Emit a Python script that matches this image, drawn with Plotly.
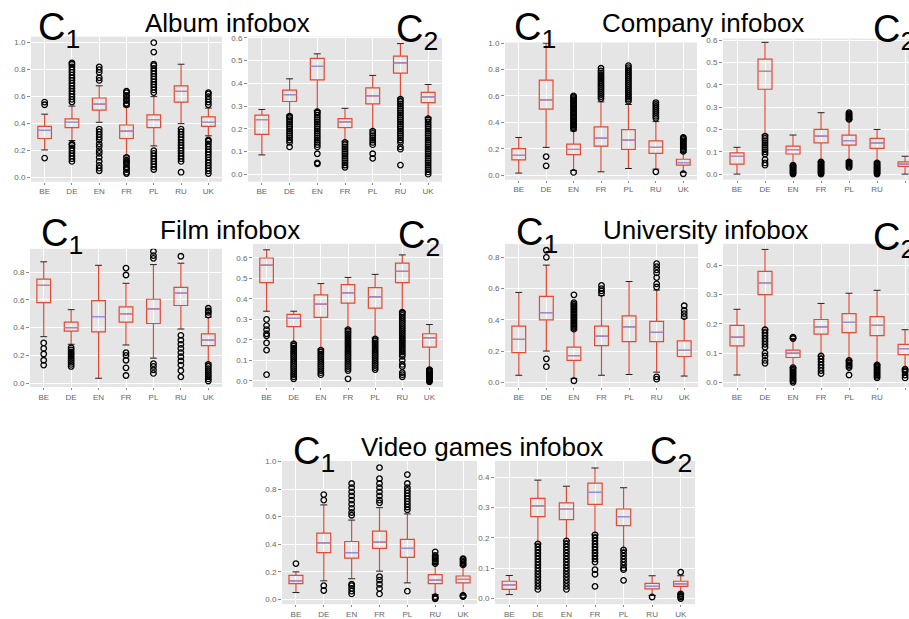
import plotly.graph_objects as go

W, H = 909, 619
CATS = ["BE", "DE", "EN", "FR", "PL", "RU", "UK"]

# ---------------- Album infobox ----------------
album_c1_q1 = [0.29, 0.37, 0.50, 0.29, 0.37, 0.56, 0.38]
album_c1_med = [0.35, 0.41, 0.545, 0.345, 0.43, 0.64, 0.41]
album_c1_q3 = [0.38, 0.435, 0.59, 0.39, 0.465, 0.68, 0.45]
album_c1_lo = [0.205, 0.275, 0.41, 0.16, 0.235, 0.40, 0.31]
album_c1_hi = [0.47, 0.53, 0.68, 0.525, 0.60, 0.84, 0.515]
album_c1_out = [
    [0.145, 0.54, 0.56],
    [0.12, 0.14, 0.16, 0.18, 0.20, 0.22, 0.24, 0.25, 0.56, 0.58, 0.60, 0.62, 0.64, 0.66, 0.68, 0.70,
     0.72, 0.74, 0.76, 0.78, 0.80, 0.82, 0.84, 0.85],
    [0.05, 0.07, 0.09, 0.12, 0.15, 0.18, 0.20, 0.23, 0.25, 0.28, 0.30, 0.32, 0.34, 0.36,
     0.72, 0.74, 0.78, 0.80, 0.82],
    [0.03, 0.04, 0.06, 0.07, 0.08, 0.10, 0.11, 0.12, 0.13, 0.15, 0.54, 0.55, 0.57, 0.58, 0.60, 0.61,
     0.63, 0.64],
    [0.06, 0.08, 0.10, 0.12, 0.14, 0.16, 0.18, 0.20, 0.63, 0.65, 0.67, 0.69, 0.71, 0.73, 0.75, 0.77,
     0.79, 0.81, 0.83, 0.84, 0.93, 1.0],
    [0.04, 0.12, 0.14, 0.16, 0.18, 0.20, 0.22, 0.24, 0.26, 0.28, 0.30, 0.32, 0.34, 0.36],
    [0.03, 0.05, 0.07, 0.09, 0.11, 0.13, 0.15, 0.17, 0.19, 0.21, 0.23, 0.25, 0.27, 0.28,
     0.54, 0.56, 0.58, 0.60, 0.62, 0.63],
]
album_c2_q1 = [0.175, 0.32, 0.415, 0.205, 0.31, 0.445, 0.315]
album_c2_med = [0.24, 0.35, 0.475, 0.23, 0.345, 0.49, 0.34]
album_c2_q3 = [0.26, 0.37, 0.51, 0.245, 0.38, 0.52, 0.36]
album_c2_lo = [0.085, 0.26, 0.28, 0.145, 0.195, 0.335, 0.25]
album_c2_hi = [0.285, 0.42, 0.53, 0.29, 0.435, 0.575, 0.395]
album_c2_out = [
    [],
    [0.12, 0.14, 0.15, 0.16, 0.17, 0.18, 0.19, 0.20, 0.21, 0.22, 0.23, 0.24, 0.25, 0.255],
    [0.045, 0.05, 0.09, 0.12, 0.13, 0.14, 0.15, 0.16, 0.17, 0.18, 0.19, 0.20, 0.21, 0.22, 0.23, 0.24,
     0.25, 0.26, 0.27, 0.275],
    [0.03, 0.04, 0.05, 0.06, 0.07, 0.08, 0.09, 0.10, 0.11, 0.12, 0.13, 0.14],
    [0.07, 0.09, 0.13, 0.14, 0.15, 0.16, 0.17, 0.18, 0.19],
    [0.04, 0.11, 0.12, 0.14, 0.15, 0.16, 0.17, 0.18, 0.19, 0.20, 0.21, 0.22, 0.23, 0.24, 0.25, 0.26,
     0.27, 0.28, 0.29, 0.30, 0.31, 0.32, 0.33],
    [0.0, 0.01, 0.02, 0.03, 0.04, 0.05, 0.06, 0.07, 0.08, 0.09, 0.10, 0.11, 0.12, 0.13, 0.14, 0.15,
     0.16, 0.17, 0.18, 0.19, 0.20, 0.21, 0.22, 0.23, 0.24, 0.245],
]

# ---------------- Company infobox ----------------
company_c1_q1 = [0.115, 0.50, 0.155, 0.22, 0.195, 0.165, 0.075]
company_c1_med = [0.15, 0.57, 0.195, 0.28, 0.265, 0.21, 0.095]
company_c1_q3 = [0.20, 0.72, 0.235, 0.365, 0.345, 0.26, 0.12]
company_c1_lo = [0.015, 0.21, 0.035, 0.025, 0.05, 0.045, 0.02]
company_c1_hi = [0.285, 1.0, 0.335, 0.555, 0.535, 0.405, 0.17]
company_c1_out = [
    [],
    [0.07, 0.14],
    [0.02, 0.35, 0.36, 0.37, 0.38, 0.39, 0.40, 0.41, 0.42, 0.43, 0.44, 0.45, 0.46, 0.47, 0.48, 0.49,
     0.50, 0.51, 0.52, 0.53, 0.54, 0.55, 0.56, 0.57, 0.58, 0.59, 0.60],
    [0.58, 0.595, 0.61, 0.625, 0.64, 0.655, 0.67, 0.685, 0.70, 0.715, 0.73, 0.745, 0.76, 0.775, 0.79,
     0.81],
    [0.56, 0.575, 0.59, 0.605, 0.62, 0.635, 0.65, 0.665, 0.68, 0.695, 0.71, 0.725, 0.74, 0.755, 0.77,
     0.785, 0.80, 0.815, 0.83],
    [0.025, 0.43, 0.445, 0.46, 0.475, 0.49, 0.505, 0.52, 0.535, 0.55],
    [0.01, 0.18, 0.19, 0.20, 0.21, 0.22, 0.23, 0.24, 0.25, 0.26, 0.27, 0.28, 0.285],
]
company_c2_q1 = [0.045, 0.38, 0.09, 0.14, 0.13, 0.115, 0.035]
company_c2_med = [0.08, 0.46, 0.11, 0.17, 0.15, 0.14, 0.045]
company_c2_q3 = [0.095, 0.515, 0.125, 0.20, 0.175, 0.16, 0.055]
company_c2_lo = [0.0, 0.175, 0.04, 0.055, 0.06, 0.055, 0.0]
company_c2_hi = [0.12, 0.59, 0.175, 0.275, 0.245, 0.20, 0.08]
company_c2_out = [
    [],
    [0.04, 0.05, 0.065, 0.09, 0.10, 0.11, 0.12, 0.13, 0.14, 0.15, 0.16, 0.17],
    [0.0, 0.005, 0.01, 0.015, 0.02, 0.025, 0.03, 0.035, 0.04],
    [0.0, 0.005, 0.01, 0.015, 0.02, 0.025, 0.03, 0.035, 0.04, 0.045, 0.05, 0.055],
    [0.03, 0.035, 0.04, 0.045, 0.05, 0.055, 0.245, 0.25, 0.255, 0.26, 0.265, 0.27, 0.275],
    [0.0, 0.005, 0.01, 0.015, 0.02, 0.025, 0.03, 0.035, 0.04, 0.045, 0.05],
    [],
]

# ---------------- Film infobox ----------------
film_c1_q1 = [0.58, 0.375, 0.37, 0.44, 0.43, 0.56, 0.27]
film_c1_med = [0.705, 0.40, 0.48, 0.50, 0.535, 0.65, 0.31]
film_c1_q3 = [0.75, 0.44, 0.595, 0.55, 0.605, 0.69, 0.355]
film_c1_lo = [0.335, 0.28, 0.035, 0.275, 0.18, 0.39, 0.145]
film_c1_hi = [0.875, 0.53, 0.85, 0.72, 0.855, 0.865, 0.475]
film_c1_out = [
    [0.13, 0.165, 0.21, 0.25, 0.29],
    [0.12, 0.135, 0.15, 0.165, 0.18, 0.195, 0.21, 0.225, 0.24, 0.255],
    [],
    [0.055, 0.11, 0.165, 0.20, 0.22, 0.78, 0.83],
    [0.07, 0.095, 0.12, 0.14, 0.90, 0.92, 0.95],
    [0.045, 0.09, 0.13, 0.16, 0.19, 0.22, 0.25, 0.28, 0.31, 0.345, 0.915],
    [0.015, 0.03, 0.045, 0.06, 0.075, 0.09, 0.105, 0.12, 0.135, 0.49, 0.51, 0.52, 0.54],
]
film_c2_q1 = [0.48, 0.265, 0.31, 0.38, 0.355, 0.48, 0.165]
film_c2_med = [0.565, 0.305, 0.375, 0.43, 0.41, 0.535, 0.21]
film_c2_q3 = [0.60, 0.325, 0.42, 0.47, 0.455, 0.575, 0.23]
film_c2_lo = [0.34, 0.185, 0.155, 0.255, 0.21, 0.34, 0.06]
film_c2_hi = [0.64, 0.34, 0.475, 0.505, 0.52, 0.615, 0.275]
film_c2_out = [
    [0.03, 0.15, 0.185, 0.22, 0.23, 0.25, 0.27, 0.30],
    [0.01, 0.02, 0.03, 0.04, 0.05, 0.06, 0.07, 0.08, 0.09, 0.10, 0.11, 0.12, 0.13, 0.14, 0.15, 0.16,
     0.17, 0.18],
    [0.03, 0.04, 0.05, 0.06, 0.07, 0.08, 0.09, 0.10, 0.11, 0.12, 0.13, 0.14, 0.15],
    [0.01, 0.05, 0.06, 0.07, 0.08, 0.09, 0.10, 0.11, 0.12, 0.13, 0.14, 0.15, 0.16, 0.17, 0.18, 0.19,
     0.20, 0.21, 0.22, 0.23, 0.24, 0.25],
    [0.055, 0.065, 0.075, 0.085, 0.095, 0.105, 0.115, 0.125, 0.135, 0.145, 0.155, 0.165, 0.175,
     0.185, 0.195, 0.205],
    [0.02, 0.03, 0.04, 0.07, 0.08, 0.10, 0.12, 0.13, 0.14, 0.15, 0.16, 0.17, 0.18, 0.19, 0.20, 0.21,
     0.22, 0.23, 0.24, 0.25, 0.26, 0.27, 0.28, 0.29, 0.30, 0.31, 0.32, 0.33, 0.335],
    [-0.005, 0.0, 0.005, 0.01, 0.015, 0.02, 0.025, 0.03, 0.035, 0.04, 0.045, 0.05, 0.055],
]

# ---------------- University infobox ----------------
univ_c1_q1 = [0.19, 0.40, 0.14, 0.235, 0.26, 0.26, 0.165]
univ_c1_med = [0.275, 0.445, 0.17, 0.295, 0.355, 0.32, 0.205]
univ_c1_q3 = [0.36, 0.55, 0.225, 0.36, 0.425, 0.39, 0.265]
univ_c1_lo = [0.045, 0.20, 0.025, 0.045, 0.05, 0.065, 0.04]
univ_c1_hi = [0.575, 0.75, 0.335, 0.555, 0.645, 0.59, 0.41]
univ_c1_out = [
    [],
    [0.10, 0.15, 0.80, 0.845],
    [0.01, 0.34, 0.35, 0.36, 0.37, 0.38, 0.39, 0.40, 0.41, 0.42, 0.43, 0.44, 0.45, 0.46, 0.47, 0.48,
     0.49, 0.50, 0.51, 0.56],
    [0.57, 0.585, 0.60, 0.62],
    [],
    [0.02, 0.035, 0.61, 0.63, 0.67, 0.70, 0.72, 0.74, 0.76],
    [0.42, 0.44, 0.46, 0.49],
]
univ_c2_q1 = [0.125, 0.30, 0.085, 0.165, 0.17, 0.16, 0.095]
univ_c2_med = [0.155, 0.34, 0.10, 0.19, 0.205, 0.195, 0.115]
univ_c2_q3 = [0.195, 0.38, 0.11, 0.215, 0.235, 0.225, 0.13]
univ_c2_lo = [0.025, 0.18, 0.05, 0.09, 0.075, 0.06, 0.045]
univ_c2_hi = [0.25, 0.455, 0.15, 0.27, 0.305, 0.315, 0.18]
univ_c2_out = [
    [],
    [0.065, 0.075, 0.09, 0.10, 0.12, 0.13, 0.14, 0.15, 0.16, 0.17, 0.18],
    [0.0, 0.005, 0.01, 0.015, 0.02, 0.025, 0.03, 0.035, 0.04, 0.045, 0.05, 0.15, 0.155],
    [0.03, 0.04, 0.05, 0.06, 0.07, 0.08, 0.09],
    [0.025, 0.05, 0.055, 0.06, 0.065, 0.07, 0.075],
    [0.015, 0.02, 0.025, 0.03, 0.035, 0.04, 0.045, 0.05, 0.055, 0.06],
    [0.015, 0.025, 0.035, 0.04, 0.045],
]

# ---------------- Video games infobox ----------------
video_c1_q1 = [0.115, 0.34, 0.30, 0.37, 0.305, 0.115, 0.12]
video_c1_med = [0.135, 0.41, 0.34, 0.415, 0.37, 0.14, 0.145]
video_c1_q3 = [0.175, 0.48, 0.42, 0.495, 0.435, 0.18, 0.17]
video_c1_lo = [0.05, 0.135, 0.15, 0.205, 0.12, 0.035, 0.03]
video_c1_hi = [0.20, 0.685, 0.575, 0.665, 0.62, 0.255, 0.245]
video_c1_out = [
    [0.26],
    [0.065, 0.10, 0.72, 0.76],
    [0.04, 0.06, 0.08, 0.10, 0.11, 0.61, 0.63, 0.66, 0.69, 0.72, 0.75, 0.78, 0.81, 0.84],
    [0.04, 0.08, 0.11, 0.14, 0.165, 0.70, 0.72, 0.75, 0.78, 0.81, 0.84, 0.875, 0.955],
    [0.06, 0.65, 0.67, 0.69, 0.71, 0.73, 0.75, 0.77, 0.79, 0.81, 0.84, 0.905],
    [0.005, 0.01, 0.02, 0.26, 0.27, 0.28, 0.29, 0.30, 0.31, 0.32, 0.345],
    [0.02, 0.025, 0.03, 0.25, 0.26, 0.27, 0.28, 0.29, 0.295],
]
video_c2_q1 = [0.03, 0.27, 0.26, 0.31, 0.24, 0.032, 0.04]
video_c2_med = [0.045, 0.305, 0.295, 0.35, 0.27, 0.04, 0.048]
video_c2_q3 = [0.057, 0.33, 0.315, 0.38, 0.295, 0.05, 0.057]
video_c2_lo = [0.013, 0.18, 0.19, 0.21, 0.16, 0.01, 0.015]
video_c2_hi = [0.076, 0.39, 0.37, 0.43, 0.365, 0.075, 0.075]
video_c2_out = [
    [],
    [0.03, 0.04, 0.05, 0.06, 0.07, 0.08, 0.09, 0.10, 0.11, 0.12, 0.13, 0.14, 0.15, 0.16, 0.17, 0.18],
    [0.03, 0.04, 0.05, 0.06, 0.07, 0.08, 0.09, 0.10, 0.11, 0.12, 0.13, 0.14, 0.15, 0.16, 0.17, 0.18,
     0.19],
    [0.04, 0.08, 0.095, 0.12, 0.13, 0.14, 0.15, 0.16, 0.17, 0.18, 0.19, 0.20, 0.21],
    [0.06, 0.095, 0.10, 0.11, 0.12, 0.13, 0.14, 0.15, 0.16],
    [0.005],
    [0.0, 0.005, 0.01, 0.015, 0.087],
]

TITLES = ["Album infobox", "Company infobox", "Film infobox", "University infobox",
          "Video games infobox"]

# ---------------- layout (pixel geometry) ----------------
# (stats, x0, x1, ytop, ybottom, yrange, ytick step, xrange)
PANELS = [
    ((album_c1_q1, album_c1_med, album_c1_q3, album_c1_lo, album_c1_hi, album_c1_out),
     31, 222, 33, 180, [-0.03, 1.045], 0.2, [-0.5, 6.5]),
    ((album_c2_q1, album_c2_med, album_c2_q3, album_c2_lo, album_c2_hi, album_c2_out),
     248, 442, 33, 180, [-0.033, 0.606], 0.1, [-0.5, 6.5]),
    ((company_c1_q1, company_c1_med, company_c1_q3, company_c1_lo, company_c1_hi, company_c1_out),
     505, 697, 39, 178, [-0.035, 1.005], 0.2, [-0.5, 6.5]),
    ((company_c2_q1, company_c2_med, company_c2_q3, company_c2_lo, company_c2_hi, company_c2_out),
     723, 909, 35, 178, [-0.025, 0.607], 0.1, [-0.5, 6.14]),
    ((film_c1_q1, film_c1_med, film_c1_q3, film_c1_lo, film_c1_hi, film_c1_out),
     30, 222, 248, 388, [-0.028, 0.969], 0.2, [-0.5, 6.5]),
    ((film_c2_q1, film_c2_med, film_c2_q3, film_c2_lo, film_c2_hi, film_c2_out),
     253, 443, 243, 388, [-0.030, 0.669], 0.1, [-0.5, 6.5]),
    ((univ_c1_q1, univ_c1_med, univ_c1_q3, univ_c1_lo, univ_c1_hi, univ_c1_out),
     505, 698, 243, 388, [-0.03, 0.886], 0.2, [-0.5, 6.5]),
    ((univ_c2_q1, univ_c2_med, univ_c2_q3, univ_c2_lo, univ_c2_hi, univ_c2_out),
     723, 909, 243, 388, [-0.016, 0.474], 0.1, [-0.5, 6.14]),
    ((video_c1_q1, video_c1_med, video_c1_q3, video_c1_lo, video_c1_hi, video_c1_out),
     282, 477, 463, 608, [-0.034, 1.003], 0.2, [-0.5, 6.5]),
    ((video_c2_q1, video_c2_med, video_c2_q3, video_c2_lo, video_c2_hi, video_c2_out),
     495, 695, 463, 608, [-0.0185, 0.453], 0.1, [-0.5, 6.5]),
]

# title: (text center x, y), C1 (left x, center y), C2 (left x, center y)
TITLE_POS = [
    ((228, 19), (36, 26), (394, 28)),
    ((703, 19), (512, 26), (871, 28)),
    ((230, 229), (39, 235), (396, 237)),
    ((705, 229), (514, 234), (871, 239)),
    ((482, 449), (291, 456), (648, 456)),
]

RED = "#E24A33"
MED = "#988ED5"
BG = "#E5E5E5"
FONT = "Liberation Sans, Arial, sans-serif"

fig = go.Figure()
layout_axes = {}

for k, (stats, x0, x1, yt, yb, yr, step, xr) in enumerate(PANELS):
    q1, med, q3, lo, hi, outs = stats
    n = k + 1
    xa = "x" if n == 1 else f"x{n}"
    ya = "y" if n == 1 else f"y{n}"
    pos = list(range(len(CATS)))

    fig.add_trace(go.Box(
        x=pos, q1=q1, median=med, q3=q3, lowerfence=lo, upperfence=hi,
        width=0.5, whiskerwidth=0, boxpoints=False,
        line=dict(color=RED, width=1.2), fillcolor="rgba(0,0,0,0)",
        xaxis=xa, yaxis=ya, showlegend=False, hoverinfo="skip"))

    # medians
    mx, my = [], []
    for i, m in enumerate(med):
        mx += [i - 0.25, i + 0.25, None]
        my += [m, m, None]
    fig.add_trace(go.Scatter(x=mx, y=my, mode="lines", line=dict(color=MED, width=1.2),
                             xaxis=xa, yaxis=ya, showlegend=False, hoverinfo="skip"))
    # caps
    cx, cy = [], []
    for i in range(len(CATS)):
        for v in (lo[i], hi[i]):
            cx += [i - 0.125, i + 0.125, None]
            cy += [v, v, None]
    fig.add_trace(go.Scatter(x=cx, y=cy, mode="lines", line=dict(color="#222222", width=1),
                             xaxis=xa, yaxis=ya, showlegend=False, hoverinfo="skip"))
    # outliers
    ox, oy = [], []
    for i, lst in enumerate(outs):
        ox += [i] * len(lst)
        oy += lst
    fig.add_trace(go.Scatter(x=ox, y=oy, mode="markers",
                             marker=dict(symbol="circle-open", size=5.5, color="black",
                                         line=dict(width=1.3, color="black")),
                             xaxis=xa, yaxis=ya, showlegend=False, hoverinfo="skip",
                             cliponaxis=True))

    tickvals = []
    t = 0.0
    while t <= yr[1] + 1e-9:
        tickvals.append(round(t, 2))
        t += step
    ticktext = [f"{v:.1f}" for v in tickvals]

    kx = "xaxis" if n == 1 else f"xaxis{n}"
    ky = "yaxis" if n == 1 else f"yaxis{n}"
    layout_axes[kx] = dict(
        domain=[x0 / W, x1 / W], anchor=ya, range=xr,
        tickmode="array", tickvals=pos, ticktext=CATS,
        showgrid=True, gridcolor="white", gridwidth=1, zeroline=False,
        ticks="outside", ticklen=2, tickcolor="#888888",
        tickfont=dict(size=8, color="#666666", family=FONT), showline=False)
    layout_axes[ky] = dict(
        domain=[1 - yb / H, 1 - yt / H], anchor=xa, range=yr,
        tickmode="array", tickvals=tickvals, ticktext=ticktext,
        showgrid=True, gridcolor="white", gridwidth=1, zeroline=False,
        ticks="outside", ticklen=3, tickcolor="#888888",
        tickfont=dict(size=8, color="#666666", family=FONT), showline=False)

annotations = []
for title, ((tx, ty), (c1x, c1y), (c2x, c2y)) in zip(TITLES, TITLE_POS):
    annotations.append(dict(text=title, x=tx / W, y=1 - ty / H, xref="paper", yref="paper",
                            xanchor="center", yanchor="middle", showarrow=False,
                            font=dict(size=26, color="black", family=FONT)))
    annotations.append(dict(text="C<sub>1</sub>", x=c1x / W, y=1 - c1y / H, xref="paper",
                            yref="paper", xanchor="left", yanchor="middle", showarrow=False,
                            font=dict(size=38, color="black", family=FONT)))
    annotations.append(dict(text="C<sub>2</sub>", x=c2x / W, y=1 - c2y / H, xref="paper",
                            yref="paper", xanchor="left", yanchor="middle", showarrow=False,
                            font=dict(size=38, color="black", family=FONT)))

fig.update_layout(
    width=W, height=H, margin=dict(l=0, r=0, t=0, b=0),
    paper_bgcolor="white", plot_bgcolor=BG,
    annotations=annotations, **layout_axes)

fig.write_html("out.html", config={"displayModeBar": False},
               post_script="document.body.style.margin='0';document.body.style.overflow='hidden';")
